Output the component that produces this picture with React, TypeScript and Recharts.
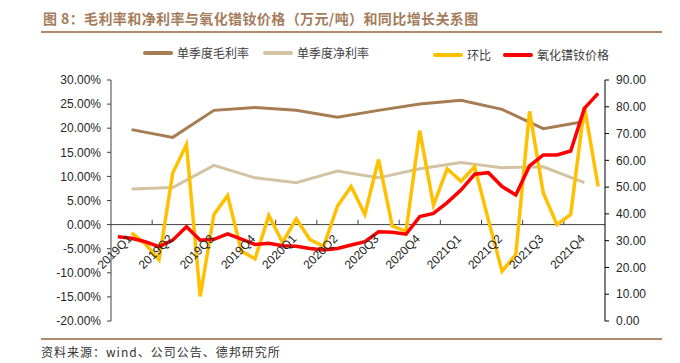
import { Legend, Line, LineChart, ReferenceDot, ReferenceLine, XAxis, YAxis } from 'recharts'

const months = [
  '2019-01', '2019-02', '2019-03', '2019-04', '2019-05', '2019-06',
  '2019-07', '2019-08', '2019-09', '2019-10', '2019-11', '2019-12',
  '2020-01', '2020-02', '2020-03', '2020-04', '2020-05', '2020-06',
  '2020-07', '2020-08', '2020-09', '2020-10', '2020-11', '2020-12',
  '2021-01', '2021-02', '2021-03', '2021-04', '2021-05', '2021-06',
  '2021-07', '2021-08', '2021-09', '2021-10', '2021-11', '2021-12',
]

const quarters = [
  '2019Q1', '2019Q2', '2019Q3', '2019Q4',
  '2020Q1', '2020Q2', '2020Q3', '2020Q4',
  '2021Q1', '2021Q2', '2021Q3', '2021Q4',
]

// 单季度毛利率 / 净利率 (%)
const grossMargin = [19.7, 18.1, 23.7, 24.3, 23.7, 22.3, 23.7, 25.0, 25.8, 23.9, 19.9, 21.4]
const netMargin = [7.4, 7.7, 12.3, 9.7, 8.7, 11.1, 9.7, 11.6, 12.9, 11.8, 12.0, 8.7]

// 环比 (%), monthly
const momChange = [
  null, -1.7, -4.0, -7.3, 10.7, 16.6, -14.9, 2.1, 6.0, -5.5, -7.1, 1.9,
  -3.7, 1.2, -3.1, -4.5, 3.8, 7.9, 2.1, 13.5, -0.3, -1.4, 19.5, 4.0,
  11.6, 9.0, 12.0, 1.0, -9.7, -6.2, 23.5, 6.6, 0.0, 2.1, 24.5, 7.9,
]

// 氧化镨钕价格 (万元/吨), monthly
const ndprPrice = [
  31.5, 30.9, 29.6, 27.8, 30.2, 35.2, 30.2, 30.5, 32.5, 30.6, 28.6, 29.0,
  28.1, 27.9, 27.1, 26.5, 27.1, 28.4, 29.6, 33.3, 33.1, 32.4, 39.0, 40.2,
  44.2, 48.9, 54.8, 55.4, 50.2, 47.1, 57.9, 62.0, 62.0, 63.5, 79.4, 85.0,
]

const leftTicks = [-20, -15, -10, -5, 0, 5, 10, 15, 20, 25, 30]
const rightTicks = [0, 10, 20, 30, 40, 50, 60, 70, 80, 90]

const data = months.map((m, i) => ({
  month: m,
  pos: i + 0.5,
  gross: i % 3 === 1 ? grossMargin[(i - 1) / 3] : null,
  net: i % 3 === 1 ? netMargin[(i - 1) / 3] : null,
  mom: momChange[i],
  price: ndprPrice[i],
}))

const quarterEdges = quarters.slice(1).map((_, i) => (i + 1) * 3)

const numFont = 'Liberation Sans, Arial, sans-serif'
const cjkFont = '"Noto Sans CJK SC", sans-serif'

const QuarterLabel = ({ viewBox, text }: any) => {
  const cx = viewBox.x + viewBox.width / 2 + 1
  const cy = viewBox.y + viewBox.height / 2 + 15
  return (
    <text
      x={cx}
      y={cy}
      transform={`rotate(-45 ${cx} ${cy})`}
      textAnchor="end"
      fontSize={12}
      fontFamily={numFont}
      fill="#262626"
    >
      {text}
    </text>
  )
}

// legend placement per series
const legendPlace: Record<string, { left: number; top: number }> = {
  gross: { left: 143, top: 0 },
  net: { left: 263, top: 0 },
  mom: { left: 433, top: 2 },
  price: { left: 503, top: 2 },
}

const renderLegend = ({ payload }: any) => (
  <div style={{ position: 'relative', height: 20, fontFamily: cjkFont, fontSize: 12, color: '#404040' }}>
    {(payload ?? []).map((p: any) => {
      const place = legendPlace[p.dataKey] ?? { left: 0, top: 0 }
      return (
        <div
          key={p.dataKey}
          style={{ position: 'absolute', left: place.left, top: place.top, display: 'flex', alignItems: 'center', whiteSpace: 'nowrap' }}
        >
          <span style={{ display: 'inline-block', width: 30, height: 4, background: p.color, borderRadius: 2, marginRight: 4 }} />
          <span>{p.value}</span>
        </div>
      )
    })}
  </div>
)

export default function App() {
  return (
    <div style={{ position: 'absolute', left: 0, top: 0, width: 680, height: 363, background: '#fff' }}>
      <div
        style={{
          position: 'absolute', left: 43, top: 9, lineHeight: '18px',
          fontFamily: cjkFont, fontSize: 14, fontWeight: 700, color: '#A57C5B',
          letterSpacing: 0.4, whiteSpace: 'nowrap',
        }}
      >
        图 8：毛利率和净利率与氧化镨钕价格（万元/吨）和同比增长关系图
      </div>
      <div style={{ position: 'absolute', left: 41, top: 31, width: 621, height: 2, background: '#B08A6A' }} />

      <LineChart width={680} height={363} data={data} margin={{ top: 80, right: 0, bottom: 42, left: 0 }}>
        <XAxis type="number" dataKey="pos" domain={[0, 36]} hide />
        <YAxis
          yAxisId="left"
          domain={[-20, 30]}
          ticks={leftTicks}
          width={111}
          tickSize={4}
          tickMargin={6}
          tickFormatter={(v: number) => `${v.toFixed(2)}%`}
          tick={{ fontSize: 12, fontFamily: numFont, fill: '#262626' }}
          axisLine={{ stroke: '#404040' }}
          tickLine={{ stroke: '#404040' }}
        />
        <YAxis
          yAxisId="right"
          orientation="right"
          domain={[0, 90]}
          ticks={rightTicks}
          width={75}
          tickSize={4}
          tickMargin={7}
          tickFormatter={(v: number) => v.toFixed(2)}
          tick={{ fontSize: 12, fontFamily: numFont, fill: '#262626', textAnchor: 'start' }}
          axisLine={{ stroke: '#000' }}
          tickLine={{ stroke: '#000' }}
        />
        <ReferenceLine yAxisId="left" y={0} stroke="#404040" strokeWidth={1} />
        {quarterEdges.map((b) => (
          <ReferenceLine
            key={`edge-${b}`}
            yAxisId="left"
            segment={[{ x: b, y: 0 }, { x: b, y: 1 }]}
            stroke="#404040"
          />
        ))}
        {quarters.map((q, i) => (
          <ReferenceDot
            key={q}
            yAxisId="left"
            x={i * 3 + 1.5}
            y={0}
            r={1}
            fill="none"
            stroke="none"
            label={<QuarterLabel text={q} />}
          />
        ))}
        <Legend
          layout="horizontal"
          verticalAlign="middle"
          align="center"
          wrapperStyle={{ top: 44, left: 0, width: 680 }}
          content={renderLegend}
        />
        <Line yAxisId="left" dataKey="gross" name="单季度毛利率" stroke="#A67C52" strokeWidth={3} dot={false} connectNulls isAnimationActive={false} />
        <Line yAxisId="left" dataKey="net" name="单季度净利率" stroke="#D4C3A2" strokeWidth={3} dot={false} connectNulls isAnimationActive={false} />
        <Line yAxisId="left" dataKey="mom" name="环比" stroke="#FFC000" strokeWidth={3.5} dot={false} isAnimationActive={false} />
        <Line yAxisId="right" dataKey="price" name="氧化镨钕价格" stroke="#FF0000" strokeWidth={3.5} dot={false} isAnimationActive={false} />
      </LineChart>

      <div style={{ position: 'absolute', left: 41, top: 338, width: 621, height: 2, background: '#B08A6A' }} />
      <div
        style={{
          position: 'absolute', left: 41, top: 344, lineHeight: '16px',
          fontFamily: cjkFont, fontSize: 12, color: '#333', letterSpacing: 1, whiteSpace: 'nowrap',
        }}
      >
        资料来源：wind、公司公告、德邦研究所
      </div>
    </div>
  )
}
